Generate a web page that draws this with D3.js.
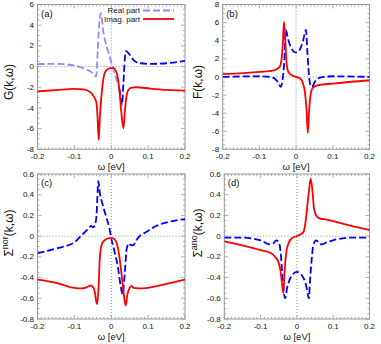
<!DOCTYPE html>
<html lang="en">

<head>
    <meta charset="UTF-8" />
    <title>Green's functions and self-energies</title>
    <style>
        body {
            margin: 0;
            background: #fff;
        }

        svg {
            display: block;
            font-family: "Liberation Sans", Arial, sans-serif;
        }

        .frame {
            fill: none;
            stroke: #999;
            stroke-width: 1;
        }

        .tick {
            stroke: #999;
            stroke-width: 0.8;
        }

        .zero-line {
            stroke: #777;
            stroke-width: 0.8;
            stroke-dasharray: 1 2;
        }

        .curve {
            fill: none;
            stroke-width: 1.8;
            stroke-linejoin: round;
        }

        .real {
            stroke: #0000ff;
            stroke-dasharray: 7 3;
        }

        .real.light {
            stroke: #8c8cff;
        }

        .imag {
            stroke: #ff0000;
        }
    </style>
</head>

<body>
    <svg></svg>
    <script src="https://d3js.org/d3.v7.min.js"></script>
    <script>
        const width = 381;
        const height = 344;

        const omegaTicks = [-0.2, -0.1, 0, 0.1, 0.2];

        // (a) G(k,w)
        const gReOmega = [-0.2, -0.15, -0.1, -0.075, -0.05, -0.041, -0.0366, -0.033, -0.0284, -0.021, -0.012, -0.003, 0.006, 0.015, 0.022, 0.0265, 0.029, 0.033, 0.0366, 0.04, 0.051, 0.06, 0.078, 0.105, 0.15, 0.2];
        const gRe = [0.23, 0.26, 0.1, -0.16, -0.65, -0.97, 1.6, 3.9, 5.16, 3.2, 1.9, 0.8, -0.32, -1.3, -2.1, -3.2, -3.7, -1.6, 0.65, 1.5, 1.1, 0.65, 0.32, 0.26, 0.32, 0.55];
        const gImOmega = [-0.2, -0.15, -0.1, -0.075, -0.06, -0.05, -0.045, -0.04, -0.037, -0.034, -0.031, -0.0275, -0.024, -0.021, -0.014, -0.003, 0.006, 0.015, 0.022, 0.0275, 0.033, 0.037, 0.04, 0.0465, 0.0555, 0.069, 0.105, 0.15, 0.2];
        const gIm = [-2.4, -2.28, -2.16, -2.2, -2.4, -2.74, -3.05, -3.55, -5.0, -7.1, -5.0, -3.2, -1.9, -1.1, -0.39, -0.16, -0.16, -0.65, -2.26, -4.5, -5.97, -4.3, -3.2, -2.26, -2.03, -2.0, -2.13, -2.26, -2.32];

        // (b) F(k,w)
        const fReOmega = [-0.2, -0.1, -0.07, -0.05, -0.042, -0.037, -0.032, -0.028, -0.022, -0.0145, -0.005, 0, 0.009, 0.019, 0.027, 0.0305, 0.034, 0.039, 0.043, 0.051, 0.065, 0.1, 0.2];
        const fRe = [0, 0.07, 0, -0.55, -1.1, -0.37, 1.84, 5.2, 4.2, 3.3, 2.75, 2.7, 2.94, 4.0, 5.2, 2.9, 0.74, -0.92, -1.1, -0.55, -0.07, 0.07, 0];
        const fImOmega = [-0.2, -0.1, -0.06, -0.045, -0.04, -0.036, -0.033, -0.029, -0.026, -0.021, -0.012, 0, 0.011, 0.019, 0.024, 0.0285, 0.032, 0.0355, 0.04, 0.046, 0.06, 0.1, 0.2];
        const fIm = [0.3, 0.55, 0.73, 1.1, 1.84, 3.7, 6.1, 3.7, 1.5, 0.55, 0.18, 0, -0.18, -0.74, -1.65, -3.7, -6.2, -3.7, -1.84, -1.18, -0.92, -0.74, -0.37];

        // (c) normal self-energy
        const sNorReOmega = [-0.2, -0.15, -0.1, -0.08, -0.06, -0.055, -0.05, -0.045, -0.04, -0.035, -0.031, -0.023, -0.014, -0.005, 0, 0.009, 0.018, 0.025, 0.031, 0.037, 0.042, 0.048, 0.052, 0.059, 0.068, 0.077, 0.095, 0.123, 0.159, 0.2];
        const sNorRe = [-0.164, -0.12, -0.06, 0.01, 0.08, 0.1, 0.085, 0.1, 0.2, 0.53, 0.42, 0.3, 0.19, 0.075, -0.02, -0.15, -0.3, -0.47, -0.56, -0.34, -0.12, -0.07, -0.085, -0.09, -0.04, 0, 0.04, 0.1, 0.14, 0.165];
        const sNorImOmega = [-0.2, -0.15, -0.1, -0.08, -0.065, -0.055, -0.05, -0.045, -0.04, -0.038, -0.034, -0.031, -0.025, -0.016, -0.005, 0.004, 0.013, 0.02, 0.027, 0.033, 0.039, 0.044, 0.05, 0.055, 0.06, 0.086, 0.113, 0.15, 0.2];
        const sNorIm = [-0.42, -0.45, -0.5, -0.505, -0.49, -0.475, -0.49, -0.53, -0.64, -0.655, -0.465, -0.21, -0.07, -0.035, -0.02, -0.02, -0.05, -0.15, -0.34, -0.53, -0.67, -0.56, -0.5, -0.48, -0.5, -0.505, -0.49, -0.46, -0.42];

        // (d) anomalous self-energy
        const sAnoReOmega = [-0.2, -0.15, -0.1, -0.075, -0.065, -0.057, -0.05, -0.045, -0.04, -0.035, -0.032, -0.027, -0.022, -0.014, 0, 0.014, 0.0225, 0.027, 0.033, 0.036, 0.041, 0.045, 0.053, 0.06, 0.068, 0.082, 0.1, 0.145, 0.2];
        const sAnoRe = [-0.015, -0.015, -0.04, -0.08, -0.07, -0.04, -0.055, -0.15, -0.38, -0.57, -0.6, -0.5, -0.44, -0.38, -0.345, -0.38, -0.44, -0.5, -0.6, -0.44, -0.215, -0.087, -0.04, -0.06, -0.08, -0.06, -0.04, -0.015, -0.015];
        const sAnoImOmega = [-0.2, -0.15, -0.1, -0.07, -0.06, -0.05, -0.045, -0.04, -0.037, -0.034, -0.029, -0.023, -0.014, 0, 0.009, 0.018, 0.0225, 0.027, 0.033, 0.038, 0.043, 0.047, 0.055, 0.064, 0.082, 0.1, 0.145, 0.2];
        const sAnoIm = [-0.05, -0.09, -0.135, -0.167, -0.2, -0.26, -0.34, -0.49, -0.55, -0.34, -0.15, -0.07, -0.02, 0, 0.015, 0.04, 0.105, 0.235, 0.43, 0.555, 0.43, 0.27, 0.19, 0.17, 0.16, 0.145, 0.105, 0.06];

        const bigTicks = [-8, -6, -4, -2, 0, 2, 4, 6, 8];
        const smallTicks = [-0.8, -0.6, -0.4, -0.2, 0, 0.2, 0.4, 0.6];

        const svg = d3.select("svg")
            .attr("width", width)
            .attr("height", height);

        const zip = (xs, ys) => xs.map((x, i) => ({ w: x, v: ys[i] }));

        const panels = [
            {
                tag: "(a)", box: [37.5, 4.5, 185, 149.3], ydom: [-8, 6], yticks: bigTicks.filter(t => t <= 6), yminor: 0.5,
                ylab: ["G(k,ω)"], ylabPos: [13, 82],
                re: zip(gReOmega, gRe), im: zip(gImOmega, gIm), split: 0.024
            },
            {
                tag: "(b)", box: [222.7, 4.5, 369.5, 149.3], ydom: [-8, 8], yticks: bigTicks, yminor: 0.5,
                ylab: ["F(k,ω)"], ylabPos: [202, 82],
                re: zip(fReOmega, fRe), im: zip(fImOmega, fIm)
            },
            {
                tag: "(c)", box: [37.5, 174, 185, 319], ydom: [-0.8, 0.6], yticks: smallTicks, yminor: 0.05,
                ylab: ["Σ", "nor", "(k,ω)"], ylabPos: [13, 233],
                re: zip(sNorReOmega, sNorRe), im: zip(sNorImOmega, sNorIm)
            },
            {
                tag: "(d)", box: [224.3, 174, 369.5, 319], ydom: [-0.8, 0.6], yticks: smallTicks, yminor: 0.05,
                ylab: ["Σ", "ano", "(k,ω)"], ylabPos: [202, 233],
                re: zip(sAnoReOmega, sAnoRe), im: zip(sAnoImOmega, sAnoIm)
            }
        ];

        const fmt = v => Math.abs(v) < 1e-9 ? "0" : String(+v.toFixed(2));

        function drawPanel(p) {
            const [x0, y0, x1, y1] = p.box;
            const x = d3.scaleLinear().domain([-0.2, 0.2]).range([x0, x1]);
            const y = d3.scaleLinear().domain(p.ydom).range([y1, y0]);
            const g = svg.append("g");

            // clip for curves
            const clipId = "clip" + p.tag.replace(/\W/g, "");
            svg.append("clipPath").attr("id", clipId)
                .append("rect").attr("x", x0).attr("y", y0).attr("width", x1 - x0).attr("height", y1 - y0);

            // zero lines
            g.append("line").attr("class", "zero-line")
                .attr("x1", x0).attr("x2", x1).attr("y1", y(0)).attr("y2", y(0));
            g.append("line").attr("class", "zero-line")
                .attr("x1", x(0)).attr("x2", x(0)).attr("y1", y0).attr("y2", y1);

            // minor + major ticks on all four sides
            const xMinor = d3.range(-0.2, 0.2001, 0.01);
            xMinor.forEach(t => {
                const isMajor = Math.abs(Math.round(t * 10) - t * 10) < 1e-6;
                const len = isMajor ? 4 : 2;
                g.append("line").attr("class", "tick")
                    .attr("x1", x(t)).attr("x2", x(t)).attr("y1", y1).attr("y2", y1 - len);
                g.append("line").attr("class", "tick")
                    .attr("x1", x(t)).attr("x2", x(t)).attr("y1", y0).attr("y2", y0 + len);
            });
            const yMinor = d3.range(p.ydom[0], p.ydom[1] + p.yminor / 2, p.yminor);
            const majorStep = p.yticks[1] - p.yticks[0];
            yMinor.forEach(t => {
                const r = t / majorStep;
                const isMajor = Math.abs(Math.round(r) - r) < 1e-6;
                const len = isMajor ? 4 : 2;
                g.append("line").attr("class", "tick")
                    .attr("x1", x0).attr("x2", x0 + len).attr("y1", y(t)).attr("y2", y(t));
                g.append("line").attr("class", "tick")
                    .attr("x1", x1).attr("x2", x1 - len).attr("y1", y(t)).attr("y2", y(t));
            });

            g.append("rect").attr("class", "frame")
                .attr("x", x0).attr("y", y0).attr("width", x1 - x0).attr("height", y1 - y0);

            // tick labels
            g.selectAll(".ylab-tick").data(p.yticks).enter().append("text")
                .attr("x", x0 - 3.5).attr("y", d => y(d) + 2.6)
                .attr("text-anchor", "end").attr("font-size", 8).attr("fill", "#111")
                .text(fmt);
            g.selectAll(".xlab-tick").data(omegaTicks).enter().append("text")
                .attr("x", d => x(d)).attr("y", y1 + 10)
                .attr("text-anchor", "middle").attr("font-size", 8).attr("fill", "#111")
                .text(fmt);

            // axis titles
            g.append("text")
                .attr("x", (x0 + x1) / 2).attr("y", y1 + 21)
                .attr("text-anchor", "middle").attr("font-size", 9.5).attr("fill", "#111")
                .text("ω [eV]");

            const yl = g.append("text")
                .attr("transform", `translate(${p.ylabPos[0]},${p.ylabPos[1]}) rotate(-90)`)
                .attr("text-anchor", "middle").attr("font-size", 12).attr("fill", "#111");
            if (p.ylab.length === 1) {
                yl.text(p.ylab[0]);
            } else {
                yl.append("tspan").text(p.ylab[0]);
                yl.append("tspan").attr("dy", -5).attr("font-size", 9).text(p.ylab[1]);
                yl.append("tspan").attr("dy", 5).text(p.ylab[2]);
            }

            g.append("text")
                .attr("x", x0 + 3.5).attr("y", y0 + 12)
                .attr("font-size", 9.5).attr("fill", "#111")
                .text(p.tag);

            const line = d3.line()
                .x(d => x(d.w))
                .y(d => y(d.v))
                .curve(d3.curveMonotoneX);

            const curves = g.append("g").attr("clip-path", `url(#${clipId})`);

            if (p.split !== undefined) {
                // real part drawn lighter left of the split in the original
                const left = p.re.filter(d => d.w <= p.split);
                const right = p.re.filter(d => d.w >= p.split - 0.003);
                curves.append("path").attr("class", "curve real light").attr("d", line(left));
                curves.append("path").attr("class", "curve real").attr("d", line(right));
            } else {
                curves.append("path").attr("class", "curve real").attr("d", line(p.re));
            }
            curves.append("path").attr("class", "curve imag").attr("d", line(p.im));
        }

        panels.forEach(drawPanel);

        // legend in panel (a)
        const legend = svg.append("g");
        const legendItems = [
            { label: "Real part", cls: "curve real light", y: 10.5 },
            { label: "Imag. part", cls: "curve imag", y: 19 }
        ];
        legendItems.forEach(it => {
            legend.append("text")
                .attr("x", 140).attr("y", it.y + 2.8)
                .attr("text-anchor", "end").attr("font-size", 8).attr("fill", "#111")
                .text(it.label);
            legend.append("line").attr("class", it.cls)
                .attr("x1", 143).attr("x2", 174).attr("y1", it.y).attr("y2", it.y);
        });
    </script>
</body>

</html>
